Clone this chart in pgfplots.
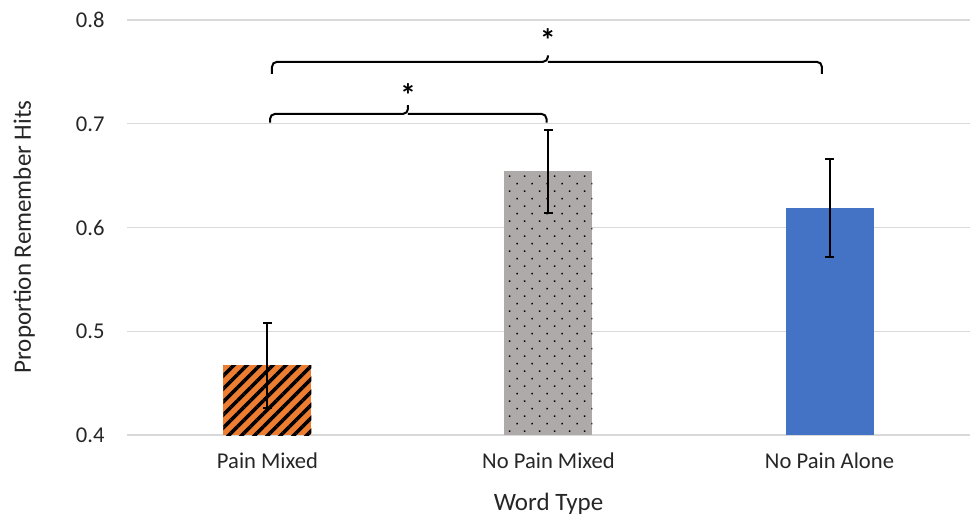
\documentclass[border=0pt]{standalone}
\usepackage{pgfplots}
\pgfplotsset{compat=1.18}
\usepackage{fontspec}
\setmainfont{Carlito}
\usetikzlibrary{patterns.meta}
\definecolor{cOrange}{HTML}{ED7D31}
\definecolor{cGrey}{HTML}{AEAAAA}
\definecolor{cBlue}{HTML}{4472C4}
\definecolor{cGrid}{HTML}{D9D9D9}
\begin{document}
\begin{tikzpicture}
\useasboundingbox (-63.5pt,-43pt) rectangle (422pt,217.5pt);
\begin{axis}[
  scale only axis,
  width=421.5pt, height=207.5pt,
  xmin=-0.5, xmax=2.5, ymin=0.4, ymax=0.8,
  xtick={0,1,2},
  xticklabels={Pain Mixed, No Pain Mixed, No Pain Alone},
  ytick={0.4,0.5,0.6,0.7,0.8},
  yticklabel style={/pgf/number format/fixed,/pgf/number format/precision=1, /pgf/number format/fixed zerofill},
  /pgf/number format/assume math mode=true,
  axis line style={draw=none},
  major tick length=0pt,
  ymajorgrids,
  grid style={cGrid, line width=0.6pt},
  tick label style={font=\fontsize{11.3}{13}\selectfont, text=black!85},
  xticklabel style={anchor=base, inner sep=0pt, yshift=-16.5pt},
  yticklabel style={anchor=east, inner sep=0pt, xshift=-11pt},
  xlabel={Word Type},
  ylabel={Proportion Remember Hits},
  label style={font=\fontsize{12.5}{14}\selectfont, text=black!85},
  xlabel style={at={(axis description cs:0.5,-0.183)}, anchor=base},
  ylabel style={at={(axis description cs:-0.114,0.477)}, anchor=base, rotate=0},
  ybar, bar width=44pt, bar shift=0pt,
  error bars/y dir=both, error bars/y explicit,
  error bars/error bar style={line width=1pt, black},
  error bars/error mark options={rotate=90, mark size=2.2pt, line width=1pt, black},
]
\addplot[draw=none, fill=cOrange, postaction={pattern={Lines[angle=45, distance=4.6pt, line width=1.8pt]}, pattern color=black}]
  coordinates {(0,0.467) +- (0,0.041)};
\addplot[draw=none, fill=cGrey, postaction={pattern={Dots[angle=45, distance=5.3pt, radius=0.55pt]}, pattern color=black}]
  coordinates {(1,0.654) +- (0,0.040)};
\addplot[draw=none, fill=cBlue]
  coordinates {(2,0.619) +- (0,0.047)};
% significance brackets
\draw[line width=1pt, rounded corners=2.5pt] (axis cs:0.016,0.748) |- (axis cs:0.998,0.7597) -- (axis cs:0.998,0.766);
\draw[line width=1pt, rounded corners=2.5pt] (axis cs:0.998,0.7597) -| (axis cs:1.973,0.748);
\draw[line width=1pt, rounded corners=2.5pt] (axis cs:0.009,0.701) |- (axis cs:0.5,0.7095) -- (axis cs:0.5,0.718);
\draw[line width=1pt, rounded corners=2.5pt] (axis cs:0.5,0.7095) -| (axis cs:0.993,0.701);
\node[anchor=base, inner sep=0pt, font=\fontsize{16}{16}\selectfont\bfseries] at (axis cs:0.998,0.7697) {*};
\node[anchor=base, inner sep=0pt, font=\fontsize{16}{16}\selectfont\bfseries] at (axis cs:0.5,0.7167) {*};
\end{axis}
\end{tikzpicture}
\end{document}
